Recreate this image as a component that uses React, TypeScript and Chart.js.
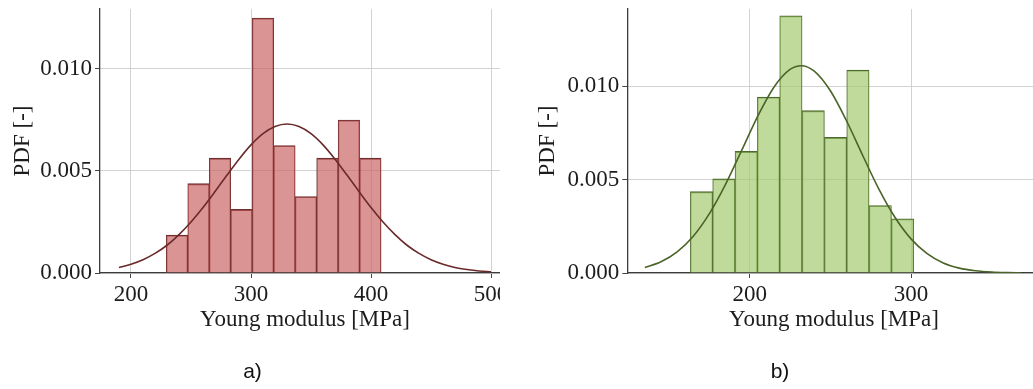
import React, { useEffect, useRef } from 'react';
import { Chart, registerables } from 'chart.js';

Chart.register(...registerables);

// ---- a) histogram: bin edges [MPa], density per bin, fitted normal PDF ----
const edgesA = [229.4, 247.3, 265.2, 283.1, 301.0, 318.9, 336.8, 354.7, 372.6, 390.5, 408.4];
const densityA = [0.00186, 0.00438, 0.00563, 0.00312, 0.0125, 0.00625, 0.00375, 0.00563, 0.0075, 0.00563];
const fitXA = [190, 200, 210, 220, 230, 240, 250, 260, 270, 280, 290, 300, 310, 320, 330,
  340, 350, 360, 370, 380, 390, 400, 410, 420, 430, 440, 450, 460, 470, 480, 490, 500];
const fitYA = [0.00027, 0.00043, 0.00065, 0.00096, 0.00136, 0.00188, 0.0025, 0.00321, 0.00399,
  0.0048, 0.00558, 0.00628, 0.00683, 0.00718, 0.0073, 0.00718, 0.00683, 0.00628, 0.00558, 0.0048,
  0.00399, 0.00321, 0.0025, 0.00188, 0.00136, 0.00096, 0.00065, 0.00043, 0.00027, 0.00017, 0.0001, 0.00006];
const xTicksA = [200, 300, 400, 500];

// ---- b) histogram ----
const edgesB = [163.2, 177.05, 190.9, 204.75, 218.6, 232.45, 246.3, 260.15, 274.0, 287.85, 301.7];
const densityB = [0.00436, 0.00505, 0.00652, 0.00943, 0.01379, 0.0087, 0.00727, 0.01088, 0.00362, 0.00291];
const fitXB = [135, 145, 155, 165, 175, 185, 195, 205, 215, 225, 232, 240, 250, 260, 270, 280,
  290, 300, 310, 320, 330, 340, 350, 360, 368];
const fitYB = [0.00029, 0.0006, 0.00113, 0.00197, 0.00318, 0.00475, 0.00657, 0.00841, 0.00996,
  0.01091, 0.01111, 0.01082, 0.00977, 0.00816, 0.00631, 0.00451, 0.00299, 0.00183, 0.00104,
  0.00054, 0.00026, 0.00012, 0.00005, 0.00002, 0.00001];
const xTicksB = [200, 300];

const yTicks = [0, 0.005, 0.01];
const axisTitleX = 'Young modulus [MPa]';
const axisTitleY = 'PDF [-]';

const SERIF = "'Liberation Serif', 'Times New Roman', serif";

type Panel = {
  edges: number[];
  density: number[];
  fitX: number[];
  fitY: number[];
  xTicks: number[];
  xMin: number;
  xMax: number;
  yMax: number;
  canvasW: number;
  axisW: number;
  padRight: number;
  yTitlePad: number;
  fill: string;
  edge: string;
  line: string;
};

const panelA: Panel = {
  edges: edgesA, density: densityA, fitX: fitXA, fitY: fitYA, xTicks: xTicksA,
  xMin: 174.17, xMax: 515.8, yMax: 0.01294,
  canvasW: 530, axisW: 100, padRight: 20, yTitlePad: 9,
  fill: 'rgba(200, 98, 98, 0.68)', edge: '#6e2f2f', line: '#6a2a2a',
};

const panelB: Panel = {
  edges: edgesB, density: densityB, fitX: fitXB, fitY: fitYB, xTicks: xTicksB,
  xMin: 124.1, xMax: 380.4, yMax: 0.01415,
  canvasW: 540, axisW: 107.3, padRight: 19.3, yTitlePad: 13.7,
  fill: 'rgba(160, 200, 108, 0.68)', edge: '#4f6a2e', line: '#4a6428',
};

function buildChart(canvas: HTMLCanvasElement, p: Panel) {
  const centers = p.edges.slice(0, -1).map((e, i) => (e + p.edges[i + 1]) / 2);
  const font = { family: SERIF, size: 23 };
  const grid = { color: '#d2d2d2', lineWidth: 1, tickColor: '#444', tickLength: 5, drawTicks: true, offset: false };
  const border = { display: true, color: '#3c3c3c', width: 1.3 };

  return new Chart(canvas, {
    type: 'bar',
    data: {
      datasets: [
        {
          type: 'line',
          data: p.fitX.map((x, i) => ({ x, y: p.fitY[i] })),
          borderColor: p.line,
          borderWidth: 1.6,
          pointRadius: 0,
          cubicInterpolationMode: 'monotone',
          fill: false,
          order: 0,
        } as any,
        {
          type: 'bar',
          data: centers.map((x, i) => ({ x, y: p.density[i] })),
          backgroundColor: p.fill,
          borderColor: p.edge,
          borderSkipped: false,
          // each bin gets its own outline; shared edges add up to one line
          borderWidth: { top: 1.2, left: 0.75, right: 0.75, bottom: 0 },
          barPercentage: 1,
          categoryPercentage: 1,
          order: 1,
        } as any,
      ],
    },
    options: {
      animation: false,
      responsive: false,
      maintainAspectRatio: false,
      devicePixelRatio: 1,
      events: [],
      layout: { padding: { left: 0, top: 9, right: p.padRight, bottom: 0 }, autoPadding: false },
      plugins: { legend: { display: false }, tooltip: { enabled: false } },
      scales: {
        x: {
          type: 'linear',
          min: p.xMin,
          max: p.xMax,
          offset: false,
          grid,
          border,
          afterBuildTicks: (s: any) => { s.ticks = p.xTicks.map((v) => ({ value: v })); },
          afterFit: (s: any) => { s.height = 116; s.paddingLeft = 0; s.paddingRight = 0; },
          ticks: { font, color: '#1c1c1c', padding: 3, maxRotation: 0, autoSkip: false, callback: (v: any) => String(v) },
          title: { display: true, text: axisTitleX, font, color: '#1c1c1c', padding: { top: 0, bottom: 55 } },
        },
        y: {
          type: 'linear',
          min: 0,
          max: p.yMax,
          grid,
          border,
          afterBuildTicks: (s: any) => { s.ticks = yTicks.map((v) => ({ value: v })); },
          afterFit: (s: any) => { s.width = p.axisW; s.paddingTop = 0; s.paddingBottom = 0; },
          ticks: { font, color: '#1c1c1c', padding: 3, autoSkip: false, callback: (v: any) => Number(v).toFixed(3) },
          title: { display: true, text: axisTitleY, font, color: '#1c1c1c', padding: { top: p.yTitlePad, bottom: 0 } },
        },
      },
    } as any,
  });
}

function HistPanel({ panel }: { panel: Panel }) {
  const ref = useRef<HTMLCanvasElement>(null);
  useEffect(() => {
    if (!ref.current) return;
    const chart = buildChart(ref.current, panel);
    return () => chart.destroy();
  }, [panel]);
  return (
    <canvas
      ref={ref}
      width={panel.canvasW}
      height={389}
      style={{ position: 'absolute', left: 0, top: 0, display: 'block' }}
    />
  );
}

const captionStyle: React.CSSProperties = {
  position: 'absolute',
  top: 360,
  width: 60,
  textAlign: 'center',
  fontFamily: "'Liberation Sans', Arial, sans-serif",
  fontSize: 21,
  lineHeight: '21px',
  color: '#111',
};

export default function App() {
  return (
    <div style={{ position: 'absolute', left: 0, top: 0, width: 1033, height: 389, overflow: 'hidden', background: '#fff' }}>
      <div style={{ position: 'absolute', left: 0, top: 0, width: 500, height: 389, overflow: 'hidden' }}>
        <HistPanel panel={panelA} />
      </div>
      <div style={{ position: 'absolute', left: 520, top: 0, width: 513, height: 389, overflow: 'hidden' }}>
        <HistPanel panel={panelB} />
      </div>
      <div style={{ ...captionStyle, left: 222.5 }}>a)</div>
      <div style={{ ...captionStyle, left: 750 }}>b)</div>
    </div>
  );
}
